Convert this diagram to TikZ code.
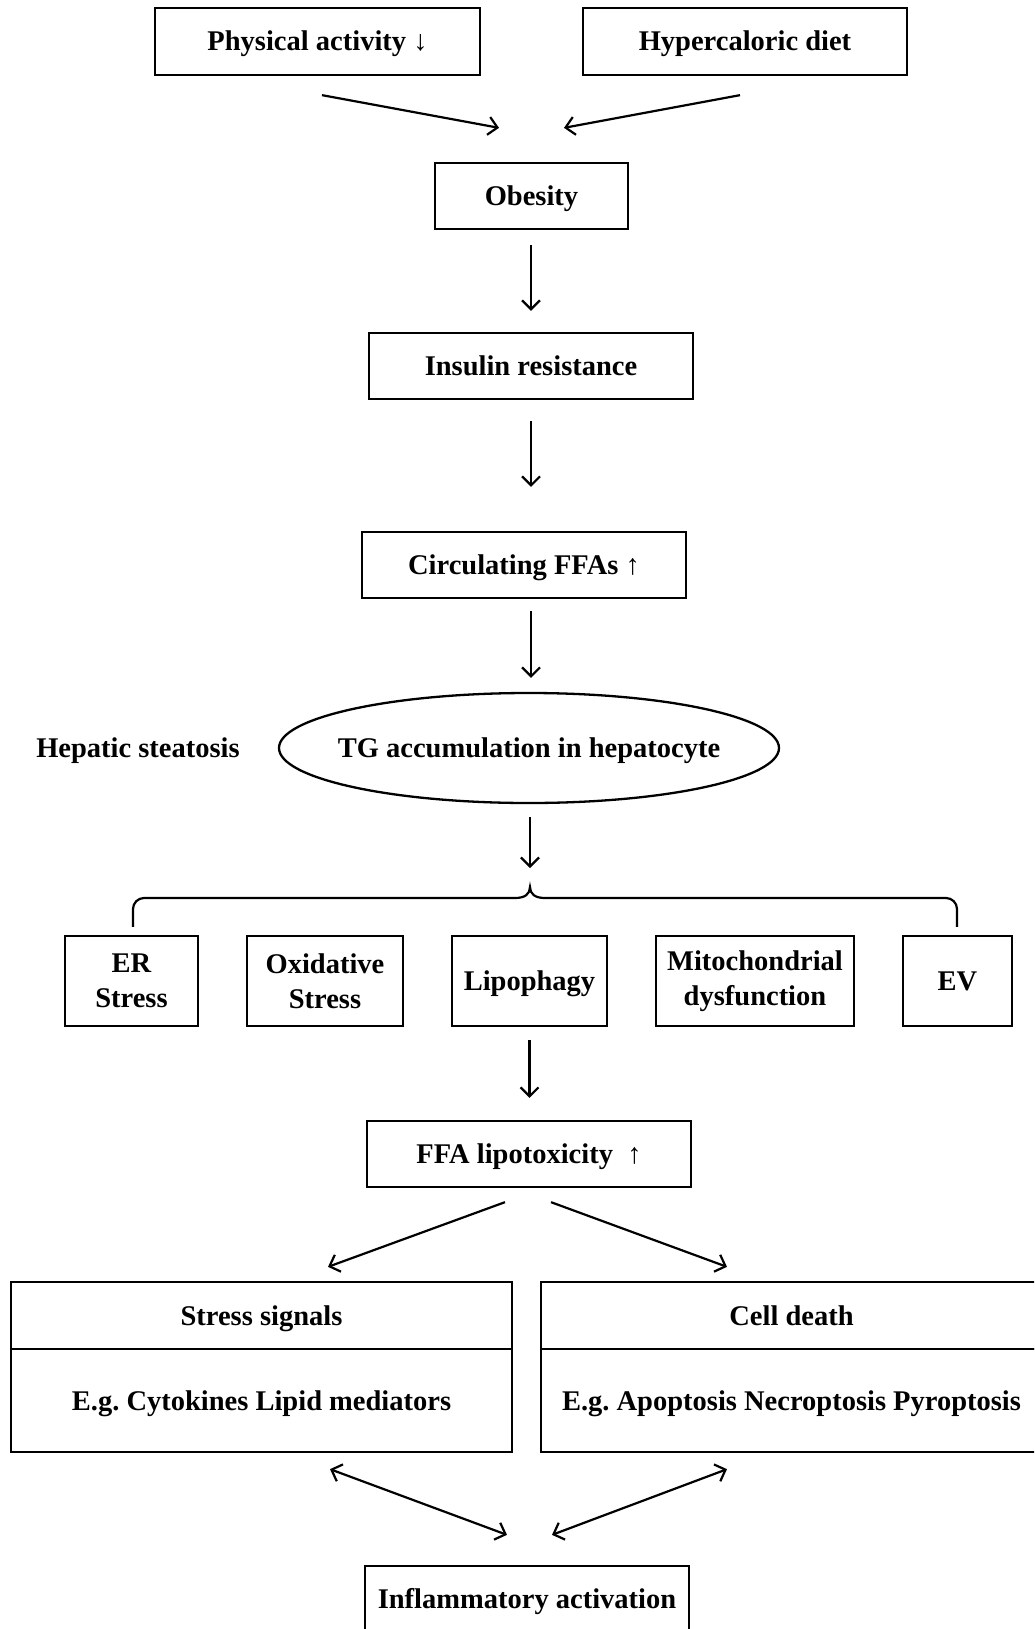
\documentclass[tikz,border=0pt]{standalone}
\usepackage{fontspec}
\setmainfont{Liberation Serif}
\usetikzlibrary{shapes.geometric,arrows.meta,calc}
\frenchspacing
\begin{document}
\begin{tikzpicture}[x=1pt,y=-1pt,
  box/.style={draw, line width=2.3pt, inner sep=0pt, align=center,
    font=\bfseries\fontsize{28.5}{35}\selectfont},
  one/.style={text height=23pt, text depth=4pt},
  plain/.style={inner sep=0pt, align=center, font=\bfseries\fontsize{28.5}{35}\selectfont},
  arr/.style={line width=2.2pt, -{Straight Barb[length=9pt,width=18pt,line width=2.2pt]}},
  darr/.style={line width=2.2pt, {Straight Barb[length=9pt,width=18pt,line width=2.2pt]}-{Straight Barb[length=9pt,width=18pt,line width=2.2pt]}}
]
\useasboundingbox (0,0) rectangle (1034,1629);
\clip (0,0) rectangle (1034,1629);
\fill[white] (0,0) rectangle (1034,1629);

\node[box, one, minimum width=325pt, minimum height=67pt] (phys) at (317.5,41.5) {Physical activity ↓};
\node[box, one, minimum width=324pt, minimum height=67pt] (diet) at (745,41.5) {Hypercaloric diet};
\node[box, one, minimum width=193pt, minimum height=66pt] (obesity) at (531.5,196) {Obesity};
\node[box, one, minimum width=324pt, minimum height=66pt] (insulin) at (531,366) {Insulin resistance};
\node[box, one, minimum width=324pt, minimum height=66pt] (ffa) at (524,565) {Circulating FFAs ↑};
\node[box, one, ellipse, inner xsep=-15pt, minimum width=500pt, minimum height=110pt] (ell) at (529,748) {TG accumulation in hepatocyte};
\node[plain, one] (hep) at (138,748) {Hepatic steatosis};

\node[box, minimum width=133pt, minimum height=90pt] (er) at (131.5,981) {ER\\Stress};
\node[box, minimum width=156pt, minimum height=90pt] (ox) at (325,981) {Oxidative\\Stress};
\node[box, one, minimum width=155pt, minimum height=90pt] (lip) at (529.5,981) {Lipophagy};
\node[box, minimum width=198pt, minimum height=90pt] (mito) at (755,981) {Mitochondrial\\dysfunction};
\node[box, one, minimum width=109pt, minimum height=90pt] (ev) at (957.5,981) {EV};

\node[box, one, minimum width=324pt, minimum height=66pt] (lipo) at (529,1154) {FFA lipotoxicity\ \ ↑};

\node[box, one, minimum width=501pt, minimum height=67pt] (stress) at (261.5,1315.5) {Stress signals};
\node[box, one, minimum width=501pt, minimum height=103pt] (stressEg) at (261.5,1400.5) {E.g. Cytokines Lipid mediators};
\node[box, one, minimum width=501pt, minimum height=67pt] (death) at (791.5,1315.5) {Cell death};
\node[box, one, minimum width=501pt, minimum height=103pt] (deathEg) at (791.5,1400.5) {E.g. Apoptosis Necroptosis Pyroptosis};

\node[box, one, minimum width=324pt, minimum height=66pt] (infl) at (527,1599) {Inflammatory activation};

% top diagonal arrows
\draw[arr] ([xshift=4.5pt,yshift=-19pt]phys.south) -- ([xshift=-32.5pt,yshift=34pt]obesity.north);
\draw[arr] ([xshift=-5pt,yshift=-19pt]diet.south) -- ([xshift=32.5pt,yshift=34pt]obesity.north);

% vertical arrows
\draw[arr, shorten <=15pt, shorten >=21pt] (obesity.south -| insulin.north) -- (insulin.north);
\draw[arr, shorten <=21pt, shorten >=44pt] (insulin.south) -- (ffa.north -| insulin.south);
\draw[arr, shorten <=12pt, shorten >=14pt] (ffa.south -| insulin.south) -- (ell.north -| insulin.south);

% brace
\coordinate (cusp) at (530,887);
\draw[arr, shorten <=13pt, shorten >=19pt] (ell.south -| cusp) -- (cusp);
\draw[line width=2.2pt] ([yshift=8pt]er.north -| 133,0) -- (133,909)
  arc[start angle=180, end angle=90, radius=11pt] -- (515,898)
  .. controls (525,898) and (530,894) .. (cusp)
  .. controls (530,894) and (535,898) .. (545,898) -- (946,898)
  arc[start angle=90, end angle=0, radius=11pt] -- ([yshift=8pt]ev.north -| 957,0);

\draw[arr, shorten <=13pt, shorten >=22pt] (lip.south) -- (lipo.north -| lip.south);

% to stress/death
\draw[arr] ([xshift=-24pt,yshift=-14pt]lipo.south) -- ([xshift=66.5pt,yshift=14pt]stress.north);
\draw[arr] ([xshift=22pt,yshift=-14pt]lipo.south) -- ([xshift=-64.5pt,yshift=14pt]death.north);

% double arrows
\draw[darr] ([xshift=68.5pt,yshift=-16pt]stressEg.south) -- ([xshift=-20pt,yshift=30pt]infl.north);
\draw[darr] ([xshift=-64.5pt,yshift=-16pt]deathEg.south) -- ([xshift=25pt,yshift=30pt]infl.north);
\end{tikzpicture}
\end{document}
